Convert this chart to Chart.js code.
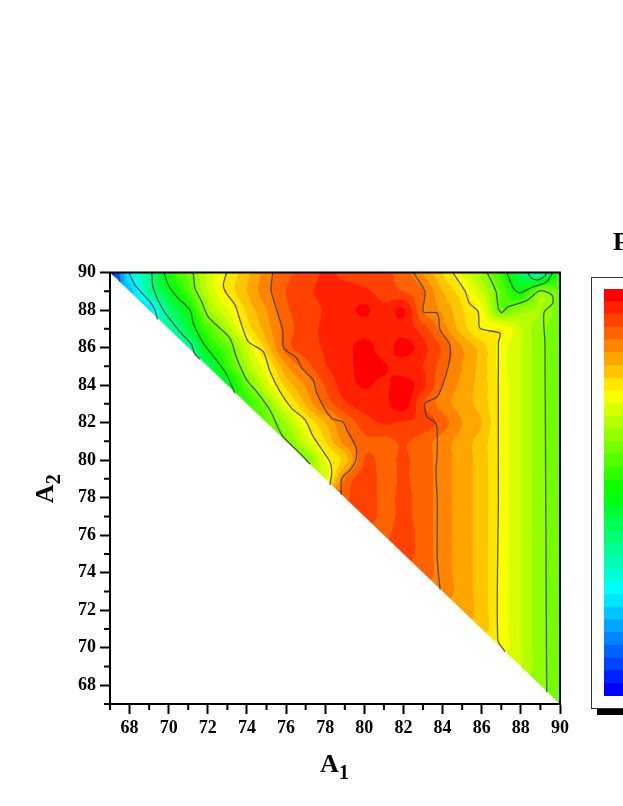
<!DOCTYPE html>
<html>
<head>
<meta charset="utf-8">
<title>F over A1 and A2</title>
<script src="https://cdn.jsdelivr.net/npm/chart.js@4/dist/chart.umd.min.js"></script>
<style>
    html, body { margin: 0; padding: 0; width: 623px; height: 806px; overflow: hidden; background: #fff; }
    #plot { position: absolute; left: 0; top: 0; }
    #legend-shadow { position: absolute; left: 597px; top: 700px; width: 60px; height: 15px; background: #000; }
    #legend-box { position: absolute; left: 591px; top: 276.5px; width: 70px; height: 430px; background: #fff; border: 1.5px solid #333; }
    #scale { position: absolute; left: 604px; top: 289px; }
    #legend-title { position: absolute; left: 613px; top: 227px; font: bold 26px "Liberation Serif", serif; color: #000; }
</style>
</head>
<body>
<canvas id="plot" width="623" height="806"></canvas>
<div id="legend-title">F</div>
<div id="legend-shadow"></div>
<div id="legend-box"></div>
<canvas id="scale" width="40" height="407"></canvas>
<script>
// Each row starts on the diagonal, at A1 = 157 - A2, and runs to A1 = 90.
const f90 = [1, 8.7, 12, 17.2, 19.8, 22.9, 24.6, 26.2, 28, 29.2, 30, 30.6, 30.3, 30, 29.8, 29, 27.5, 25.5, 23.4, 21.1, 18, 14, 11.5, 18];
const f89 = [7, 11.8, 15.3, 18.8, 22.5, 24.8, 26.5, 28.2, 29.5, 30.3, 30.7, 30.8, 30.7, 30, 29.5, 28.6, 26.5, 24.9, 22.5, 19.3, 16.5, 20.5, 19.5];
const f88 = [8, 13, 16.2, 21.2, 23.4, 25.7, 27.5, 29.3, 30, 30.6, 31, 31.7, 30.8, 31.6, 28.5, 27.3, 25.6, 24, 19.8, 21, 21.5, 20];
const f87 = [11.5, 14.7, 18.7, 21.8, 24.9, 27, 29, 30, 30.7, 31, 31, 31, 31, 30, 28, 26, 24.4, 24.4, 22.5, 20.8, 20];
const f86 = [11.7, 16.8, 19.4, 22.8, 26, 29, 30, 30.6, 31, 32, 31, 32, 30.8, 29.3, 27.5, 26, 24, 22.5, 20.8, 20];
const f85 = [14, 18, 21.6, 24.3, 27.3, 29, 30.4, 31, 32, 31.6, 31, 30.5, 29, 27.5, 26, 24, 22.5, 20.8, 20];
const f84 = [15.5, 19.6, 22.9, 25.8, 27.6, 29.6, 31, 31.6, 31.3, 32, 30.8, 28.5, 27.2, 26, 24.2, 22.5, 20.8, 20];
const f83 = [18, 20.6, 23.9, 26.6, 28.8, 30.3, 31, 31.2, 32, 29.6, 28, 27, 26, 24.2, 22.5, 20.8, 20];
const f82 = [19.5, 21.5, 24.4, 26.5, 28.6, 30, 30.6, 30.4, 30.2, 29, 27.5, 26.5, 24.2, 22.5, 20.8, 20];
const f81 = [20.3, 22.9, 25.5, 27.9, 29.3, 29.2, 29.6, 29, 28, 27, 26, 24.2, 22.5, 20.8, 20];
const f80 = [20.3, 23.8, 26, 29.5, 29.2, 29.6, 29, 28, 27, 26, 24.2, 22.5, 20.8, 20];
const f79 = [23.5, 28.5, 30, 29.2, 29.6, 29, 28, 27, 26, 24.2, 22.5, 20.8, 20];
const f78 = [29.3, 30.2, 29.2, 29.7, 29, 28, 27, 26, 24.2, 22.5, 20.8, 20];
const f77 = [30.2, 29.2, 29.7, 29, 28, 27, 26, 24.2, 22.5, 20.8, 20];
const f76 = [29.2, 30, 29, 28, 27, 26, 24.2, 22.5, 20.8, 20];
const f75 = [30, 29, 28, 27, 26, 24.2, 22.5, 20.8, 20];
const f74 = [29, 28, 27, 26, 24.2, 22.5, 20.8, 20];
const f73 = [28, 27, 26, 24.2, 22.5, 20.8, 20];
const f72 = [27, 26, 24.2, 22.5, 20.8, 20];
const f71 = [26, 24.2, 22.5, 20.8, 20];
const f70 = [24, 22.5, 20.8, 20];
const f69 = [22.5, 20.8, 20];
const f68 = [20.8, 20];
const f67 = [20];
const fRows = [f90, f89, f88, f87, f86, f85, f84, f83, f82, f81, f80, f79, f78, f77, f76, f75, f74, f73, f72, f71, f70, f69, f68, f67];

const line4A1 = [67.42, 67.51];
const line4A2 = [90, 89.5];
const line8A1 = [67.97, 68.28, 69.04, 69.3, 69.42];
const line8A2 = [90, 89.33, 88.44, 88, 87.5];
const line12A1 = [69.13, 69.21, 69.72, 70.58, 71.18, 71.31, 71.6];
const line12A2 = [90, 89.16, 88, 86.84, 86.14, 85.69, 85.37];
const line16A1 = [69.76, 69.98, 70.41, 71.09, 71.26, 71.77, 72.88, 73.39];
const line16A2 = [90, 89.33, 88.71, 88, 87.29, 86.23, 84.71, 83.56];
const line20A1 = [71.26, 71.34, 71.69, 72.02, 73.13, 73.48, 73.99, 74.5, 75.18, 75.78, 76.62, 77.22];
const line20A2 = [90, 89.17, 88.44, 87.64, 86.49, 85.43, 84.27, 83.65, 82.67, 81.34, 80.45, 79.79];
const line24A1 = [72.96, 72.79, 72.93, 73.39, 73.64, 74.07, 74.83, 75.18, 75.69, 76.29, 76.97, 77.39, 78.24, 78.33, 78.24];
const line24A2 = [90, 89.33, 88.91, 88.27, 87.47, 86.31, 85.78, 84.71, 83.65, 82.76, 82.14, 81.25, 79.91, 79.3, 78.67];
const line28A1 = [75.32, 75.23, 75.52, 75.83, 75.89, 76.54, 76.8, 77.38, 77.56, 78.08, 78.4, 78.9, 79.11, 79.57, 79.57, 79.27, 78.86, 78.81, 78.85];
const line28A2 = [90, 89.07, 88, 86.93, 85.97, 85.44, 84.9, 84.27, 83.58, 82.56, 82.19, 82.03, 81.6, 80.7, 80, 79.47, 79.05, 78.25, 78.15];
const line28RightA1 = [82.5, 83.1, 83.01, 83.73, 83.87, 84.34, 84.38, 84.12, 83.73, 83.1, 83.19, 83.66, 83.73, 83.66, 83.73, 83.73, 83.73, 83.87];
const line28RightA2 = [90, 88.98, 87.91, 87.83, 86.93, 86.23, 85.51, 84.36, 83.38, 83.03, 82.31, 81.96, 80.71, 79.3, 77.87, 76.81, 74.67, 73.11];
const line24RightA1 = [84.52, 85.16, 85.37, 85.82, 85.91, 86.93, 86.85, 86.85, 86.82, 87.19];
const line24RightA2 = [90, 88.98, 88.36, 87.91, 87.03, 86.76, 86.23, 77.87, 70.41, 69.79];
const line20RightA1 = [86.28, 86.73, 86.85, 87.02, 87.36, 88.3, 88.98, 89.58, 89.63, 89.18, 89.23, 89.27, 89.32];
const line20RightA2 = [90, 88.98, 88.09, 87.86, 88.18, 88.5, 89.03, 88.8, 88.36, 87.86, 86.23, 77.87, 67.62];
const line16RightA1 = [87.28, 87.62, 87.93, 88.47, 89.32, 89.63];
const line16RightA2 = [90, 89.16, 88.92, 89.16, 89.51, 90];
const line12RightA1 = [88.33, 88.55, 88.89, 89.23, 89.32];
const line12RightA2 = [90, 89.69, 89.6, 89.81, 90];

const contours = [
    [line4A1, line4A2], [line8A1, line8A2], [line12A1, line12A2], [line16A1, line16A2],
    [line20A1, line20A2], [line24A1, line24A2], [line28A1, line28A2], [line28RightA1, line28RightA2],
    [line24RightA1, line24RightA2], [line20RightA1, line20RightA2], [line16RightA1, line16RightA2],
    [line12RightA1, line12RightA2],
];

const BAND_COUNT = 32;
const A_MIN = 67;
const A_MAX = 90;
const SERIF = '"Liberation Serif", "Times New Roman", serif';

/** Blue - cyan - green - yellow - red, t from 0 to 1. */
function rainbow(t) {
    let s = t * 4;
    if (s < 1) return [0, Math.round(255 * s), 255];
    if (s < 2) return [0, 255, Math.round(255 * (2 - s))];
    if (s < 3) return [Math.round(255 * (s - 2)), 255, 0];
    return [255, Math.round(255 * (4 - s)), 0];
}

const bandColors = [];
for (let k = 0; k < BAND_COUNT; k++) {
    bandColors.push(rainbow(k / (BAND_COUNT - 1)));
}

/** F at a grid node; nodes past the diagonal take the row's first value. */
function fAt(a1, a2) {
    let y = Math.min(A_MAX, Math.max(A_MIN, a2));
    let row = fRows[A_MAX - y];
    let first = 157 - y;
    let x = Math.min(A_MAX, Math.max(first, a1));
    return row[x - first];
}

function cubic(p0, p1, p2, p3, t) {
    return p1 + 0.5 * t * (p2 - p0 + t * (2 * p0 - 5 * p1 + 4 * p2 - p3 + t * (3 * (p1 - p2) + p3 - p0)));
}

function fSmooth(a1, a2) {
    let ix = Math.floor(a1);
    let iy = Math.floor(a2);
    let tx = a1 - ix;
    let ty = a2 - iy;
    let rows = [];
    for (let j = -1; j <= 2; j++) {
        rows.push(cubic(fAt(ix - 1, iy + j), fAt(ix, iy + j), fAt(ix + 1, iy + j), fAt(ix + 2, iy + j), tx));
    }
    return cubic(rows[0], rows[1], rows[2], rows[3], ty);
}

/** Paints the filled bands under the contour lines, pixel by pixel through the scales. */
const bandFillPlugin = {
    id: 'bandFill',
    beforeDatasetsDraw(chart) {
        let area = chart.chartArea;
        let xs = chart.scales.x;
        let ys = chart.scales.y;
        let w = Math.ceil(area.right - area.left);
        let h = Math.ceil(area.bottom - area.top);
        let off = document.createElement('canvas');
        off.width = w;
        off.height = h;
        let octx = off.getContext('2d');
        let img = octx.createImageData(w, h);
        for (let py = 0; py < h; py++) {
            let a2 = ys.getValueForPixel(area.top + py + 0.5);
            for (let px = 0; px < w; px++) {
                let a1 = xs.getValueForPixel(area.left + px + 0.5);
                if (a1 + a2 < 156.5) continue;
                let band = Math.floor(fSmooth(a1, a2) - 0.5);
                band = Math.max(0, Math.min(BAND_COUNT - 1, band));
                let c = bandColors[band];
                let i = (py * w + px) * 4;
                img.data[i] = c[0];
                img.data[i + 1] = c[1];
                img.data[i + 2] = c[2];
                img.data[i + 3] = 255;
            }
        }
        octx.putImageData(img, 0, 0);
        let ctx = chart.ctx;
        ctx.save();
        ctx.beginPath();
        ctx.moveTo(xs.getPixelForValue(A_MIN), ys.getPixelForValue(A_MAX));
        ctx.lineTo(xs.getPixelForValue(A_MAX), ys.getPixelForValue(A_MAX));
        ctx.lineTo(xs.getPixelForValue(A_MAX), ys.getPixelForValue(A_MIN));
        ctx.closePath();
        ctx.clip();
        ctx.drawImage(off, area.left, area.top);
        ctx.restore();
    },
};

/** Frame, short odd ticks and the subscripted axis titles. */
const axisDressPlugin = {
    id: 'axisDress',
    afterDraw(chart) {
        let ctx = chart.ctx;
        let area = chart.chartArea;
        let xs = chart.scales.x;
        let ys = chart.scales.y;
        ctx.save();
        ctx.strokeStyle = '#000';
        ctx.lineWidth = 2;
        ctx.strokeRect(area.left, area.top, area.right - area.left, area.bottom - area.top);
        ctx.beginPath();
        for (let v = A_MIN; v <= A_MAX; v += 2) {
            let px = xs.getPixelForValue(v);
            ctx.moveTo(px, area.bottom);
            ctx.lineTo(px, area.bottom + 6);
            let py = ys.getPixelForValue(v);
            ctx.moveTo(area.left, py);
            ctx.lineTo(area.left - 6, py);
        }
        ctx.stroke();

        let midX = (area.left + area.right) / 2;
        let midY = (area.top + area.bottom) / 2;
        ctx.fillStyle = '#000';
        ctx.textBaseline = 'alphabetic';
        ctx.textAlign = 'left';
        ctx.font = 'bold 26px ' + SERIF;
        ctx.fillText('A', midX - 15, 772);
        ctx.font = 'bold 20px ' + SERIF;
        ctx.fillText('1', midX + 4, 779);

        ctx.translate(53, midY + 15);
        ctx.rotate(-Math.PI / 2);
        ctx.font = 'bold 26px ' + SERIF;
        ctx.fillText('A', 0, 0);
        ctx.font = 'bold 20px ' + SERIF;
        ctx.fillText('2', 19, 7);
        ctx.restore();
    },
};

function axisOptions(fitSize) {
    return {
        type: 'linear',
        min: A_MIN,
        max: A_MAX,
        afterFit(scale) {
            if (scale.isHorizontal()) {
                scale.height = fitSize;
            } else {
                scale.width = fitSize;
            }
        },
        border: { display: true, color: '#000', width: 2 },
        grid: {
            drawOnChartArea: false,
            tickLength: 10,
            tickWidth: 2,
            tickColor: (ctx) => (ctx.tick && ctx.tick.value % 2 === 0 ? '#000' : 'rgba(0,0,0,0)'),
        },
        ticks: {
            stepSize: 1,
            autoSkip: false,
            maxRotation: 0,
            padding: 4,
            color: '#000',
            font: { family: SERIF, size: 18, weight: 'bold' },
            callback: (value) => (value % 2 === 0 ? String(value) : ''),
        },
    };
}

const gridPoints = [];
fRows.forEach((row, j) => {
    row.forEach((value, i) => {
        gridPoints.push({ x: 157 - (A_MAX - j) + i, y: A_MAX - j, f: value });
    });
});

const datasets = [{ label: 'F', data: gridPoints, pointRadius: 0, showLine: false }];
contours.forEach((pair) => {
    datasets.push({
        label: 'contour',
        data: pair[0].map((a1, i) => ({ x: a1, y: pair[1][i] })),
        showLine: true,
        pointRadius: 0,
        borderColor: 'rgba(60,60,60,0.85)',
        borderWidth: 1.3,
        tension: 0.25,
    });
});

new Chart(document.getElementById('plot'), {
    type: 'scatter',
    data: { datasets: datasets },
    options: {
        responsive: false,
        animation: false,
        layout: { padding: { left: 0, right: 63, top: 272.5, bottom: 0 } },
        plugins: { legend: { display: false }, tooltip: { enabled: false } },
        scales: { x: axisOptions(102), y: axisOptions(110) },
    },
    plugins: [bandFillPlugin, axisDressPlugin],
});

// Colour scale: one stacked bar per legend step, right part runs off the page.
new Chart(document.getElementById('scale'), {
    type: 'bar',
    data: {
        labels: ['F'],
        datasets: bandColors.map((c) => ({
            data: [1],
            backgroundColor: 'rgb(' + c.join(',') + ')',
            barPercentage: 1,
            categoryPercentage: 1,
        })),
    },
    options: {
        responsive: false,
        animation: false,
        layout: { padding: 0 },
        plugins: { legend: { display: false }, tooltip: { enabled: false } },
        scales: {
            x: { stacked: true, display: false },
            y: { stacked: true, display: false, min: 0, max: BAND_COUNT },
        },
    },
});
</script>
</body>
</html>
